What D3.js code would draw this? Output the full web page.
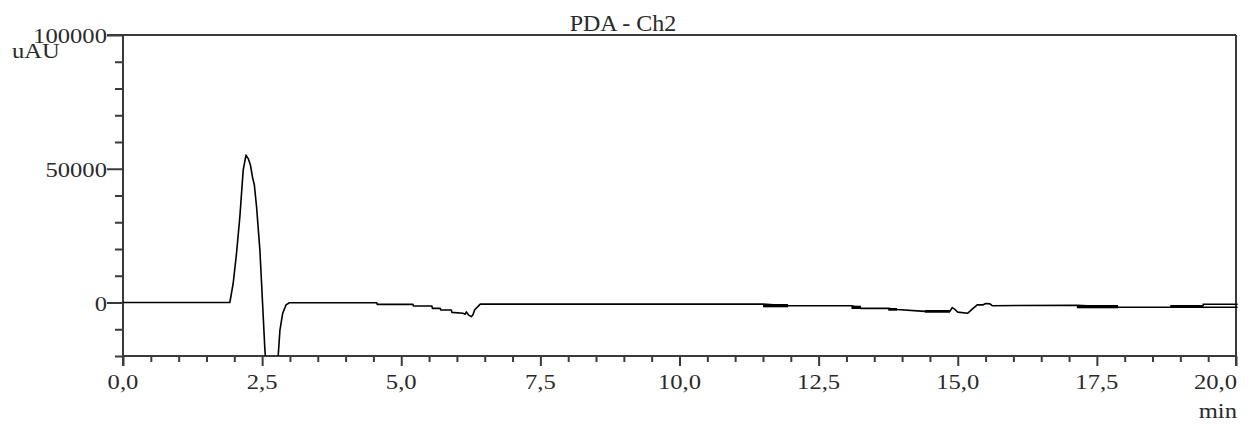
<!DOCTYPE html>
<html><head><meta charset="utf-8">
<script src="https://cdn.jsdelivr.net/npm/d3@7"></script>
<style>body{margin:0;background:#fff} text{font-family:"Liberation Serif","DejaVu Serif",serif}</style>
</head><body>
<svg id="chart" width="1253" height="424"></svg>
<script>
const title = "PDA - Ch2";
const yUnit = "uAU";
const xUnit = "min";
const xMajorTicks = [0, 2.5, 5, 7.5, 10, 12.5, 15, 17.5, 20];
const xTickLabels = ["0,0","2,5","5,0","7,5","10,0","12,5","15,0","17,5","20,0"];
const yMajorTicks = [0, 50000, 100000];
const yTickLabels = ["0","50000","100000"];
const xDomain = [0, 20];
const yDomain = [-20000, 100000];

// main trace (min, uAU)
const time = [0,1.92,1.98,2.04,2.10,2.16,2.21,2.25,2.29,2.33,2.36,2.40,2.46,2.49,2.52,2.55,2.60,2.68,2.75,2.79,2.82,2.87,2.93,2.99,
  4.56,4.57,5.21,5.22,5.55,5.56,5.70,5.71,5.90,5.91,6.11,6.15,6.17,6.21,6.26,6.29,6.32,6.42,
  10.0,11.50,11.95,13.09,13.26,13.75,13.91,14.41,14.86,14.90,14.95,15.00,15.18,15.26,15.35,15.45,15.50,15.58,15.62,
  17.14,17.88,18.82,19.41,20.03];
const signal = [0,0,7200,18400,32100,49500,55100,53800,51400,46500,44000,35800,19600,7200,-5300,-17800,-32000,-38000,-30000,-19600,-10300,-4000,-900,-100,
  -100,-700,-700,-1300,-1300,-2200,-2200,-2800,-2800,-3700,-4000,-4400,-3500,-4700,-5300,-4500,-2700,-600,
  -600,-600,-1200,-1200,-2200,-2200,-2600,-3300,-3300,-1900,-2600,-3600,-4000,-2500,-900,-900,-400,-500,-1200,
  -1000,-1800,-1800,-1800,-1800];
// second short trace near the end
const time2 = [19.41, 19.41, 20.03];
const signal2 = [-1400, -680, -680];
// noisy stretches drawn as thick bands (start, end, low, high)
const bandStart = [11.50, 13.09, 13.75, 14.41, 17.14, 18.82];
const bandEnd   = [11.95, 13.26, 13.91, 14.86, 17.88, 19.41];
const bandLow   = [-1800, -2430, -3070, -3800, -2170, -1800];
const bandHigh  = [-560, -1200, -2050, -2800, -930, -930];

const svg = d3.select("#chart");
const L = 123, R = 1236, T = 35, B = 356;
const x = d3.scaleLinear().domain(xDomain).range([L, R]);
const y = d3.scaleLinear().domain(yDomain).range([B, T]);
const axisColor = "#3a3a3a";
const textColor = "#2a2a2a";

svg.append("defs").append("clipPath").attr("id","clip")
  .append("rect").attr("x", L).attr("y", T).attr("width", R - L + 4).attr("height", B - T);

// frame
svg.append("line").attr("x1", L-16).attr("x2", R).attr("y1", T).attr("y2", T).attr("stroke", axisColor).attr("stroke-width", 2);
svg.append("line").attr("x1", R).attr("x2", R).attr("y1", T).attr("y2", B + 10).attr("stroke", axisColor).attr("stroke-width", 2);

// x axis
const xMinor = d3.range(0, 20.001, 0.5).filter(v => Math.abs(v/2.5 - Math.round(v/2.5)) > 1e-6);
const gx = svg.append("g").attr("transform", `translate(0,${B})`);
gx.call(d3.axisBottom(x).tickValues(xMinor).tickSize(6).tickFormat(""));
gx.selectAll(".tick line").attr("stroke", axisColor).attr("stroke-width", 2);
gx.select(".domain").remove();
const gx2 = svg.append("g").attr("transform", `translate(0,${B})`);
gx2.call(d3.axisBottom(x).tickValues(xMajorTicks).tickSize(10).tickFormat(""));
gx2.select(".domain").remove();
gx2.selectAll(".tick line").attr("stroke", axisColor).attr("stroke-width", 2);
svg.append("line").attr("x1", L).attr("x2", R).attr("y1", B).attr("y2", B).attr("stroke", axisColor).attr("stroke-width", 2);

// y axis
const yMinor = d3.range(-20000, 100001, 10000).filter(v => v % 50000 !== 0);
const gy = svg.append("g").attr("transform", `translate(${L},0)`);
gy.call(d3.axisLeft(y).tickValues(yMinor).tickSize(8).tickFormat(""));
gy.select(".domain").remove();
gy.selectAll(".tick line").attr("stroke", axisColor).attr("stroke-width", 2);
const gy2 = svg.append("g").attr("transform", `translate(${L},0)`);
gy2.call(d3.axisLeft(y).tickValues(yMajorTicks).tickSize(16).tickFormat(""));
gy2.select(".domain").remove();
gy2.selectAll(".tick line").attr("stroke", axisColor).attr("stroke-width", 2);
svg.append("line").attr("x1", L).attr("x2", L).attr("y1", T).attr("y2", B + 10).attr("stroke", axisColor).attr("stroke-width", 2);

function label(txt, px, py, anchor, size, sx) {
  svg.append("text")
    .attr("transform", `translate(${px},${py}) scale(${sx},1)`)
    .attr("text-anchor", anchor)
    .style("font-family", '"Liberation Serif", "DejaVu Serif", serif')
    .attr("font-size", size).attr("fill", textColor)
    .text(txt);
}
xMajorTicks.forEach((v, i) => {
  const last = i === xMajorTicks.length - 1;
  label(xTickLabels[i], last ? x(v) + 1 : x(v), 389, last ? "end" : "middle", 22, 1.12);
});
yMajorTicks.forEach((v, i) => {
  label(yTickLabels[i], L - 16, y(v) + 8, "end", 22, 1.12);
});
label(yUnit, 12, 58, "start", 22, 1.12);
label(xUnit, 1237, 418, "end", 22, 1.12);
label(title, 623, 31, "middle", 24, 1.0);

// traces
const line = d3.line().x(d => x(d[0])).y(d => y(d[1]));
const g = svg.append("g").attr("clip-path", "url(#clip)");
g.selectAll("rect.band").data(bandStart.map((s, i) => ({s, e: bandEnd[i], lo: bandLow[i], hi: bandHigh[i]})))
  .join("rect").attr("class", "band")
  .attr("x", d => x(d.s)).attr("width", d => Math.max(0, x(d.e) - x(d.s)))
  .attr("y", d => y(d.hi)).attr("height", d => y(d.lo) - y(d.hi))
  .attr("fill", "#000");
g.append("path").datum(time.map((t, i) => [t, signal[i]]))
  .attr("d", line).attr("fill", "none").attr("stroke", "#000").attr("stroke-width", 1.6).attr("stroke-linejoin", "round");
g.append("path").datum(time2.map((t, i) => [t, signal2[i]]))
  .attr("d", line).attr("fill", "none").attr("stroke", "#000").attr("stroke-width", 1.4);
</script>
</body></html>
